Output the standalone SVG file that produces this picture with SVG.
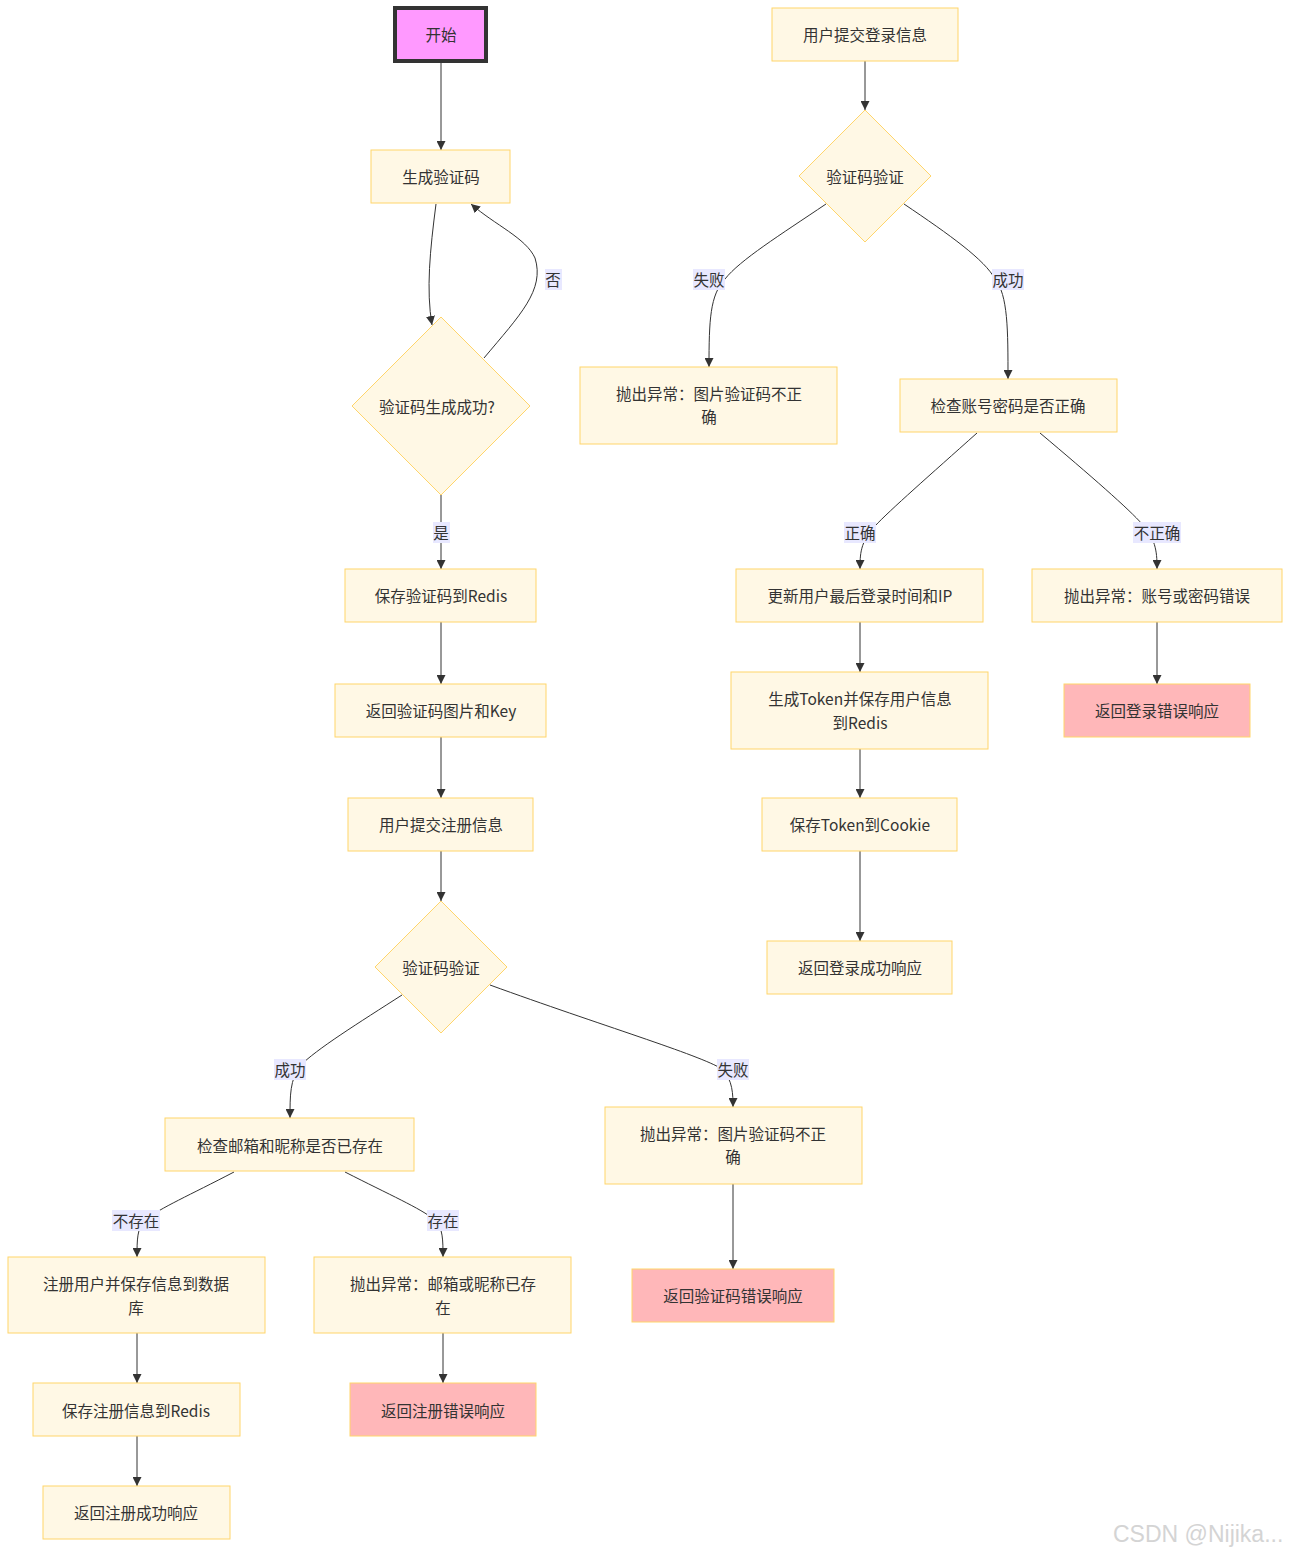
<svg xmlns="http://www.w3.org/2000/svg" width="1290" height="1548" viewBox="0 0 1290 1548">
<defs>
<marker id="arr" viewBox="0 0 10 10" refX="10" refY="5" markerWidth="9" markerHeight="9" markerUnits="userSpaceOnUse" orient="auto">
<path d="M0,0 L10,5 L0,10 z" fill="#333"/>
</marker>
</defs>
<style>
text{font-family:"Noto Sans CJK SC","Liberation Sans",sans-serif;font-size:15.5px;fill:#333;text-anchor:middle;dominant-baseline:central}
.n{fill:#FFF8E5;stroke:#FFD56B;stroke-width:1}
.r{fill:#FFB7B9;stroke:#FFD56B;stroke-width:1}
.s{fill:#FF99FF;stroke:#333;stroke-width:4}
.e{fill:none;stroke:#333;stroke-width:1;marker-end:url(#arr)}
.lb{fill:#E8E8FF}
.wm{font-family:"Liberation Sans",sans-serif;font-size:23px;fill:#d4d4d4;text-anchor:start}
</style>
<rect width="1290" height="1548" fill="#fff"/>
<g id="edges">
<path class="e" d="M441,62 L441,150"/>
<path class="e" d="M436,204 C430,250 426,290 432,325"/>
<path class="e" d="M484,358 C520,315 545,290 535,258 C526,238 495,225 471,204"/>
<path class="e" d="M441,495 L441,569"/>
<path class="e" d="M441,622 L441,684"/>
<path class="e" d="M441,737 L441,798"/>
<path class="e" d="M441,851 L441,901"/>
<path class="e" d="M402,995 C360,1022 315,1050 300,1066 C290,1080 290,1095 290,1118"/>
<path class="e" d="M490,985 C600,1025 700,1055 722,1069 C733,1080 733,1095 733,1107"/>
<path class="e" d="M234,1172 C190,1195 160,1208 145,1220 C137,1228 137,1240 137,1257"/>
<path class="e" d="M345,1172 C390,1195 420,1208 435,1220 C443,1228 443,1240 443,1257"/>
<path class="e" d="M733,1184 L733,1269"/>
<path class="e" d="M137,1333 L137,1383"/>
<path class="e" d="M137,1436 L137,1486"/>
<path class="e" d="M443,1333 L443,1383"/>
<path class="e" d="M865,61 L865,110"/>
<path class="e" d="M826,204 C780,235 740,260 725,279 C710,295 709,320 709,367"/>
<path class="e" d="M904,204 C950,235 985,260 995,279 C1008,295 1008,330 1008,379"/>
<path class="e" d="M977,433 C930,475 890,510 875,526 C860,542 860,555 860,569"/>
<path class="e" d="M1040,433 C1090,475 1130,510 1142,524 C1157,540 1157,555 1157,569"/>
<path class="e" d="M860,622 L860,672"/>
<path class="e" d="M860,749 L860,798"/>
<path class="e" d="M860,851 L860,941"/>
<path class="e" d="M1157,622 L1157,684"/>
<rect class="lb" x="545" y="269" width="17" height="21"/><text x="553" y="279">否</text>
<rect class="lb" x="433" y="522" width="17" height="21"/><text x="441" y="532">是</text>
<rect class="lb" x="693" y="269" width="32" height="21"/><text x="709" y="279">失败</text>
<rect class="lb" x="992" y="269" width="32" height="21"/><text x="1008" y="279">成功</text>
<rect class="lb" x="844" y="522" width="32" height="21"/><text x="860" y="532">正确</text>
<rect class="lb" x="1133" y="522" width="48" height="21"/><text x="1157" y="532">不正确</text>
<rect class="lb" x="274" y="1059" width="32" height="21"/><text x="290" y="1069">成功</text>
<rect class="lb" x="717" y="1059" width="32" height="21"/><text x="733" y="1069">失败</text>
<rect class="lb" x="112" y="1210" width="48" height="21"/><text x="136" y="1220">不存在</text>
<rect class="lb" x="427" y="1210" width="32" height="21"/><text x="443" y="1220">存在</text>
</g>
<g id="start"><rect class="s" x="395" y="8" width="91" height="53"/><text x="441" y="34">开始</text></g>
<g id="gen"><rect class="n" x="371" y="150" width="139" height="53"/><text x="441" y="176">生成验证码</text></g>
<g id="genok"><polygon class="n" points="441,317 530,406 441,495 352,406"/><text x="437" y="406">验证码生成成功?</text></g>
<g id="saveredis"><rect class="n" x="345" y="569" width="191" height="53"/><text x="441" y="595">保存验证码到Redis</text></g>
<g id="retimg"><rect class="n" x="335" y="684" width="211" height="53"/><text x="441" y="710">返回验证码图片和Key</text></g>
<g id="submitreg"><rect class="n" x="348" y="798" width="185" height="53"/><text x="441" y="824">用户提交注册信息</text></g>
<g id="verify1"><polygon class="n" points="441,901 507,967 441,1033 375,967"/><text x="441" y="967">验证码验证</text></g>
<g id="checkmail"><rect class="n" x="165" y="1118" width="249" height="53"/><text x="290" y="1145">检查邮箱和昵称是否已存在</text></g>
<g id="err1"><rect class="n" x="605" y="1107" width="257" height="77"/><text x="733" y="1133">抛出异常：图片验证码不正</text><text x="733" y="1156">确</text></g>
<g id="reterr1"><rect class="r" x="632" y="1269" width="202" height="53"/><text x="733" y="1295">返回验证码错误响应</text></g>
<g id="reg"><rect class="n" x="8" y="1257" width="257" height="76"/><text x="136" y="1283">注册用户并保存信息到数据</text><text x="136" y="1307">库</text></g>
<g id="errmail"><rect class="n" x="314" y="1257" width="257" height="76"/><text x="443" y="1283">抛出异常：邮箱或昵称已存</text><text x="443" y="1307">在</text></g>
<g id="savereg"><rect class="n" x="33" y="1383" width="207" height="53"/><text x="136" y="1410">保存注册信息到Redis</text></g>
<g id="retregerr"><rect class="r" x="350" y="1383" width="186" height="53"/><text x="443" y="1410">返回注册错误响应</text></g>
<g id="retregok"><rect class="n" x="43" y="1486" width="187" height="53"/><text x="136" y="1512">返回注册成功响应</text></g>
<g id="submitlogin"><rect class="n" x="772" y="8" width="186" height="53"/><text x="865" y="34">用户提交登录信息</text></g>
<g id="verify2"><polygon class="n" points="865,110 931,176 865,242 799,176"/><text x="865" y="176">验证码验证</text></g>
<g id="err2"><rect class="n" x="580" y="367" width="257" height="77"/><text x="709" y="393">抛出异常：图片验证码不正</text><text x="709" y="416">确</text></g>
<g id="checkpwd"><rect class="n" x="900" y="379" width="217" height="53"/><text x="1008" y="405">检查账号密码是否正确</text></g>
<g id="update"><rect class="n" x="736" y="569" width="247" height="53"/><text x="860" y="595">更新用户最后登录时间和IP</text></g>
<g id="errpwd"><rect class="n" x="1032" y="569" width="250" height="53"/><text x="1157" y="595">抛出异常：账号或密码错误</text></g>
<g id="token"><rect class="n" x="731" y="672" width="257" height="77"/><text x="860" y="698">生成Token并保存用户信息</text><text x="860" y="722">到Redis</text></g>
<g id="retloginerr"><rect class="r" x="1064" y="684" width="186" height="53"/><text x="1157" y="710">返回登录错误响应</text></g>
<g id="cookie"><rect class="n" x="762" y="798" width="195" height="53"/><text x="860" y="824">保存Token到Cookie</text></g>
<g id="retloginok"><rect class="n" x="767" y="941" width="185" height="53"/><text x="860" y="967">返回登录成功响应</text></g>
<text class="wm" x="1113" y="1534">CSDN @Nijika...</text>
</svg>
